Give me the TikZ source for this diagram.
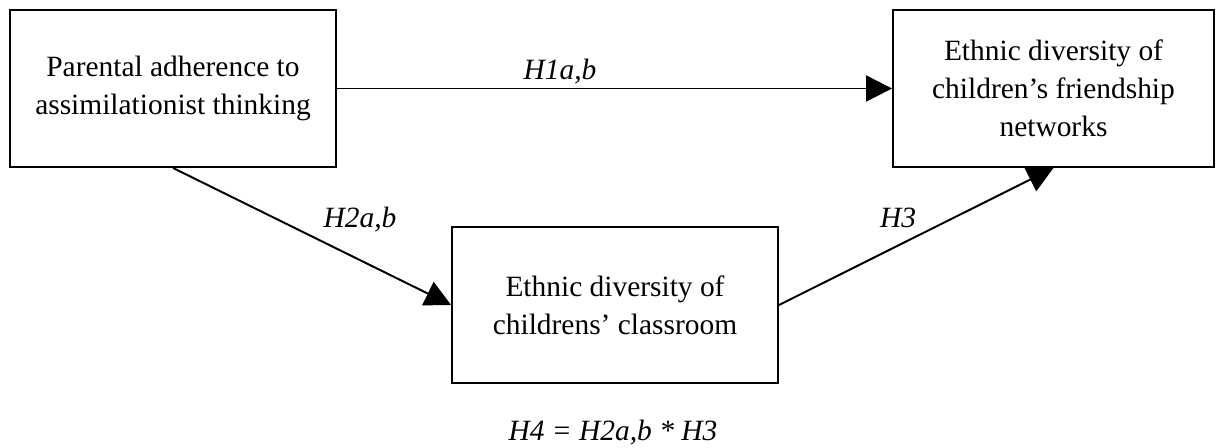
\documentclass[tikz,border=0pt]{standalone}
\usepackage{fontspec}
\setmainfont{Liberation Serif}
\usetikzlibrary{arrows.meta}
\newcommand{\figfont}{\fontsize{13.4}{17.3}\selectfont}
\tikzset{
  varbox/.style={draw,line width=0.9pt,align=center,minimum width=5.216cm,minimum height=2.512cm,inner sep=0pt},
  hyp/.style={font=\figfont\itshape},
  link/.style={line width=0.9pt,-{Triangle[length=11.8pt,width=11.8pt]}}
}
\begin{document}
\begin{tikzpicture}[x=0.016cm,y=-0.016cm,font=\figfont]
  \useasboundingbox (0,0) rectangle (1216,447);
  \node[varbox](parent) at(173,88.5) {Parental adherence to\\assimilationist thinking};
  \node[varbox,minimum width=5.136cm](friend) at(1053.5,88.5) {Ethnic diversity of\\children’s friendship\\networks};
  \node[varbox](class) at(615,305) {Ethnic diversity of\\childrens’ classroom};

  \node[hyp](H1) at(560,72) {H1a,b};
  \node[hyp](H2) at(360,220) {H2a,b};
  \node[hyp](H3) at(898,218) {H3};
  \node[hyp](H4) at(613,433) {H4 = H2a,b * H3};

  \foreach \x/\y in{parent.east/friend.west, parent.south/class.west,
    class.east/friend.south}{
    \draw[link](\x)--(\y);
  }
\end{tikzpicture}
\end{document}
